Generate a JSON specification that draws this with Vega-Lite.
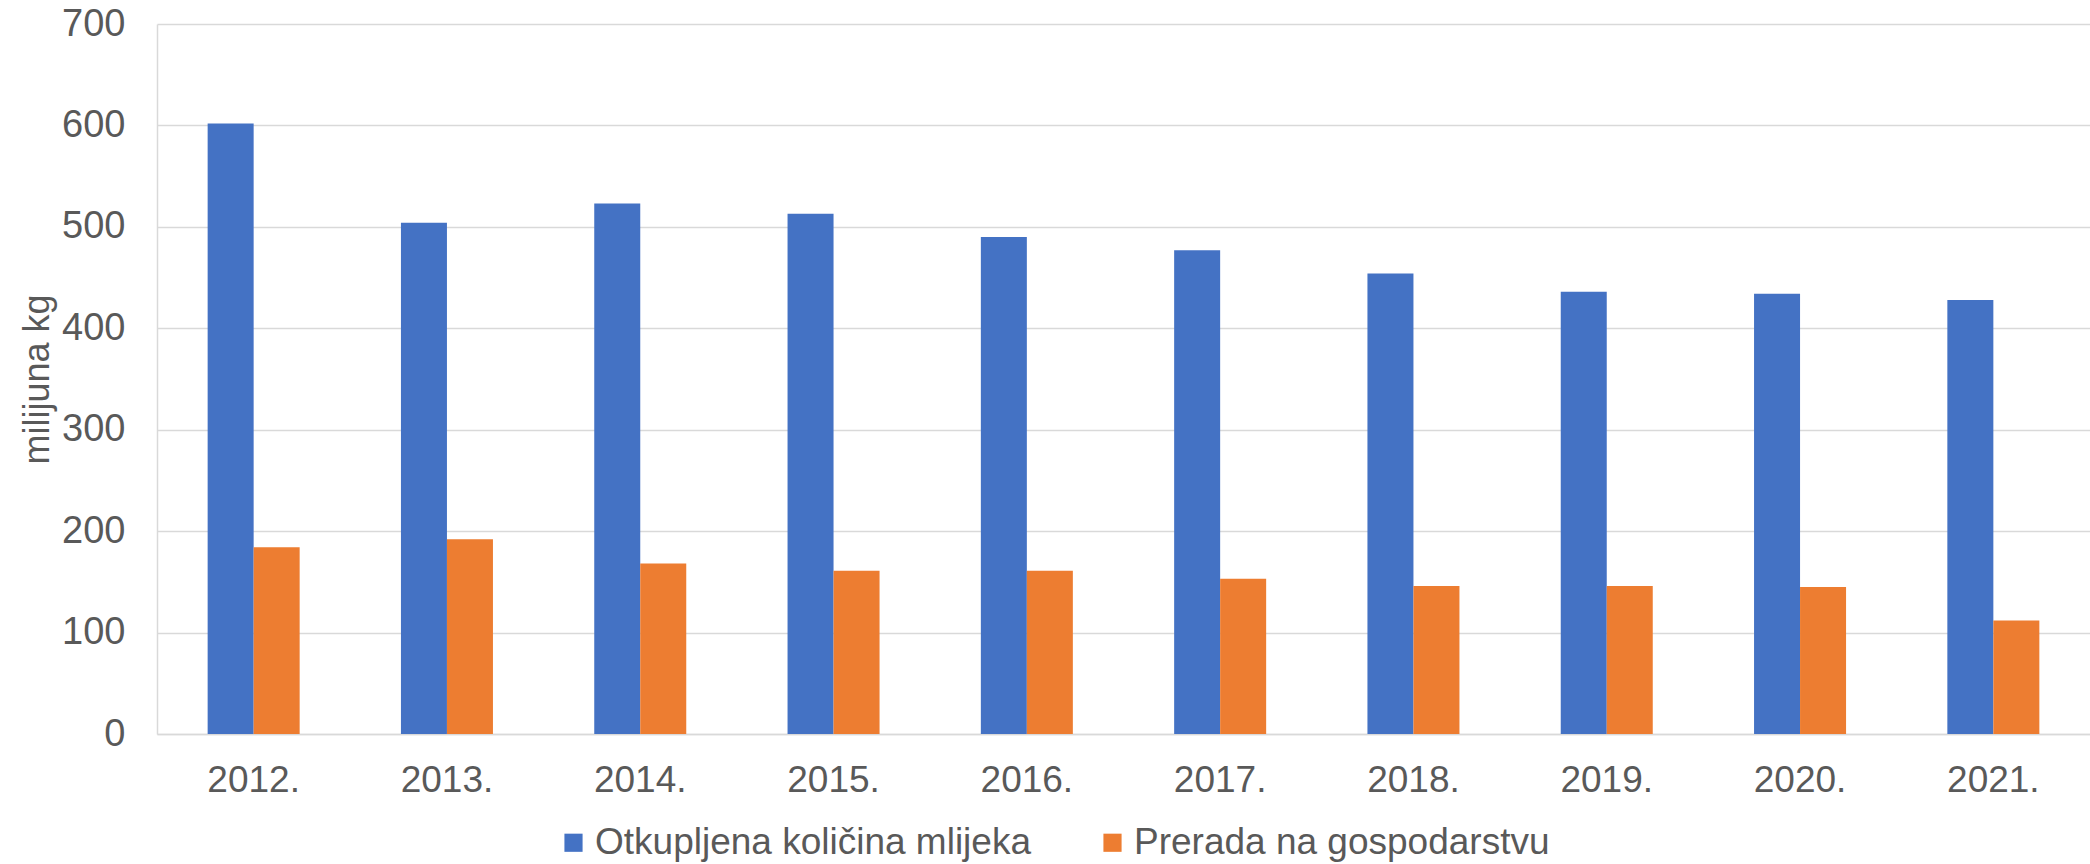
{
  "$schema": "https://vega.github.io/schema/vega-lite/v6.json",
  "autosize": {"type": "none"},
  "padding": {"left": 157, "top": 24, "right": 0, "bottom": 130},
  "width": 1933,
  "height": 710,
  "background": "white",
  "config": {
    "font": "Liberation Sans",
    "view": {"stroke": null}
  },
  "data": {
    "values": [
      {"year": "2012.", "series": "Otkupljena količina mlijeka", "value": 602},
      {"year": "2013.", "series": "Otkupljena količina mlijeka", "value": 504},
      {"year": "2014.", "series": "Otkupljena količina mlijeka", "value": 523},
      {"year": "2015.", "series": "Otkupljena količina mlijeka", "value": 513},
      {"year": "2016.", "series": "Otkupljena količina mlijeka", "value": 490},
      {"year": "2017.", "series": "Otkupljena količina mlijeka", "value": 477},
      {"year": "2018.", "series": "Otkupljena količina mlijeka", "value": 454},
      {"year": "2019.", "series": "Otkupljena količina mlijeka", "value": 436},
      {"year": "2020.", "series": "Otkupljena količina mlijeka", "value": 434},
      {"year": "2021.", "series": "Otkupljena količina mlijeka", "value": 428},
      {"year": "2012.", "series": "Prerada na gospodarstvu", "value": 184},
      {"year": "2013.", "series": "Prerada na gospodarstvu", "value": 192},
      {"year": "2014.", "series": "Prerada na gospodarstvu", "value": 168},
      {"year": "2015.", "series": "Prerada na gospodarstvu", "value": 161},
      {"year": "2016.", "series": "Prerada na gospodarstvu", "value": 161},
      {"year": "2017.", "series": "Prerada na gospodarstvu", "value": 153},
      {"year": "2018.", "series": "Prerada na gospodarstvu", "value": 146},
      {"year": "2019.", "series": "Prerada na gospodarstvu", "value": 146},
      {"year": "2020.", "series": "Prerada na gospodarstvu", "value": 145},
      {"year": "2021.", "series": "Prerada na gospodarstvu", "value": 112}
    ]
  },
  "mark": {"type": "bar"},
  "encoding": {
    "x": {
      "field": "year",
      "type": "nominal",
      "sort": null,
      "scale": {"paddingInner": 0.524, "paddingOuter": 0.262},
      "axis": {
        "title": null,
        "labelAngle": 0,
        "labelFontSize": 37,
        "labelColor": "#595959",
        "labelPadding": 28,
        "ticks": false,
        "tickSize": 0,
        "domainColor": "#d9d9d9",
        "domainWidth": 1.5,
        "grid": false
      }
    },
    "xOffset": {
      "field": "series",
      "type": "nominal",
      "sort": ["Otkupljena količina mlijeka", "Prerada na gospodarstvu"],
      "scale": {"paddingInner": 0, "paddingOuter": 0}
    },
    "y": {
      "field": "value",
      "type": "quantitative",
      "scale": {"domain": [0, 700], "nice": false},
      "axis": {
        "title": "milijuna kg",
        "titleFontSize": 36,
        "titleFontWeight": "normal",
        "titleColor": "#595959",
        "titlePadding": 5,
        "values": [0, 100, 200, 300, 400, 500, 600, 700],
        "labelFontSize": 38,
        "labelColor": "#595959",
        "labelPadding": 32,
        "ticks": false,
        "tickSize": 0,
        "domain": true,
        "domainColor": "#d9d9d9",
        "domainWidth": 1.5,
        "grid": true,
        "gridColor": "#d9d9d9",
        "gridWidth": 1.5
      }
    },
    "color": {
      "field": "series",
      "type": "nominal",
      "sort": ["Otkupljena količina mlijeka", "Prerada na gospodarstvu"],
      "scale": {"range": ["#4472c4", "#ed7d31"]},
      "legend": {
        "title": null,
        "orient": "none",
        "direction": "horizontal",
        "legendX": 398,
        "legendY": 800,
        "symbolType": "square",
        "symbolSize": 330,
        "symbolStrokeWidth": 0,
        "labelFontSize": 37,
        "labelColor": "#595959",
        "labelOffset": 3,
        "labelLimit": 0,
        "columnPadding": 63
      }
    }
  }
}
